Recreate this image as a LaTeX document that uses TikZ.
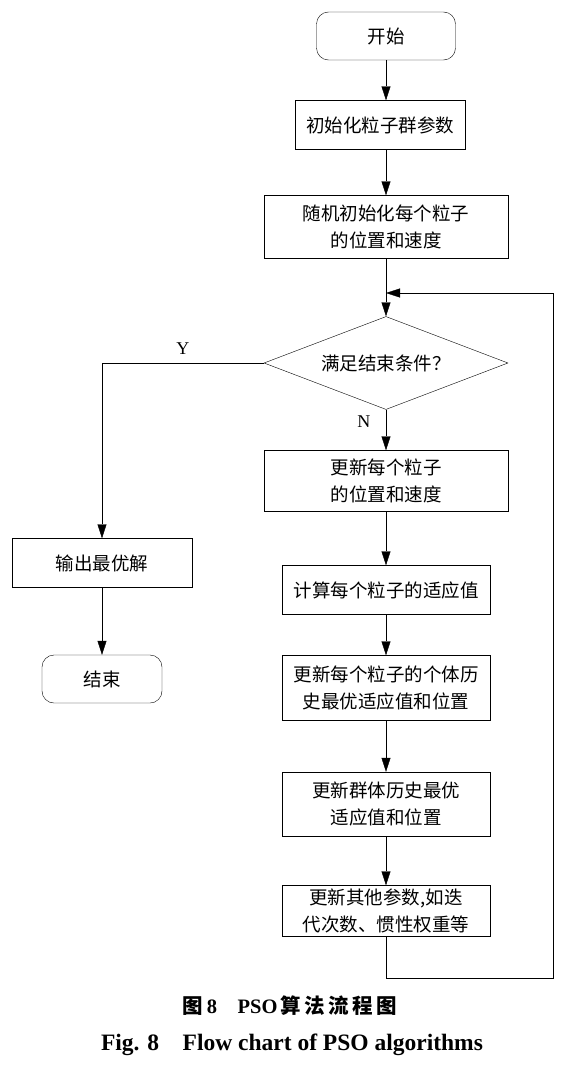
\documentclass[tikz,border=0pt]{standalone}
\usepackage{fontspec}
\setmainfont{Liberation Serif}
\newfontfamily\cjk{Noto Sans CJK SC}
\usetikzlibrary{arrows.meta,shapes.geometric}
\tikzset{line width=1.4pt}

\begin{document}
\begin{tikzpicture}[
            x=1pt, y=-1pt,
            box/.style={draw, align=center, inner sep=2pt, font=\cjk\fontsize{18.5}{27}\selectfont},
            term/.style={box, rounded corners=12pt},
            test/.style={draw, diamond, aspect=2.6, inner sep=0pt, minimum width=244pt, minimum height=93pt, font=\cjk\fontsize{18.5}{27}\selectfont},
            arr/.style={draw, -{Triangle[length=14pt,width=9pt]}},
            lab/.style={font=\fontsize{18}{20}\selectfont}
            ]
            \useasboundingbox (0,0) rectangle (576,1065);
            \node[term, minimum width=139pt, minimum height=48pt] (start) at (386,36) {开始};
            \node[box, minimum width=170pt, minimum height=49pt] (init) at (380,125) {初始化粒子群参数};
            \node[box, minimum width=244pt, minimum height=63pt] (rand) at (386,227) {随机初始化每个粒子\\的位置和速度};
            \node[test] (cond) at (386,363) {满足结束条件？};
            \node[box, minimum width=244pt, minimum height=61pt] (upd) at (386,481) {更新每个粒子\\的位置和速度};
            \node[box, minimum width=180pt, minimum height=49pt] (out) at (102,563) {输出最优解};
            \node[term, minimum width=120pt, minimum height=48pt] (end) at (102,679) {结束};
            \node[box, minimum width=208pt, minimum height=49pt] (calc) at (386,590) {计算每个粒子的适应值};
            \node[box, minimum width=208pt, minimum height=65pt] (pbest) at (386,688) {更新每个粒子的个体历\\史最优适应值和位置};
            \node[box, minimum width=208pt, minimum height=64pt] (gbest) at (386,804) {更新群体历史最优\\适应值和位置};
            \node[box, minimum width=208pt, minimum height=51pt] (other) at (386,911) {更新其他参数,如迭\\代次数、惯性权重等};
            \coordinate (back) at (553,978);
            \coordinate (merge) at (386,293);
            \draw[arr] (start.south) -- (start.south |- init.north);
            \draw[arr] (start.south |- init.south) -- (rand.north);
            \draw[arr] (rand) -- (cond);
            \draw[arr] (cond.west) -| node[lab, pos=0.25, above=5pt] {Y} (out.north);
            \draw[arr] (cond) -- node[lab, pos=0.3, left=12pt] {N} (upd);
            \draw[arr] (out) -- (end);
            \draw[arr] (upd) -- (calc);
            \draw[arr] (calc) -- (pbest);
            \draw[arr] (pbest) -- (gbest);
            \draw[arr] (gbest) -- (other);
            \draw[arr] (other.south) |- (back) |- (merge);
            \node[font=\bfseries\fontsize{20.5}{22}\selectfont] (capcn) at (290,1006) {{\cjk 图}\,8\quad PSO\,{\cjk 算\,法\,流\,程\,图}};
            \node[font=\bfseries\fontsize{23.5}{25}\selectfont] (capen) at (292,1045) {Fig. 8\quad Flow chart of PSO algorithms};
        \end{tikzpicture}
\end{document}
